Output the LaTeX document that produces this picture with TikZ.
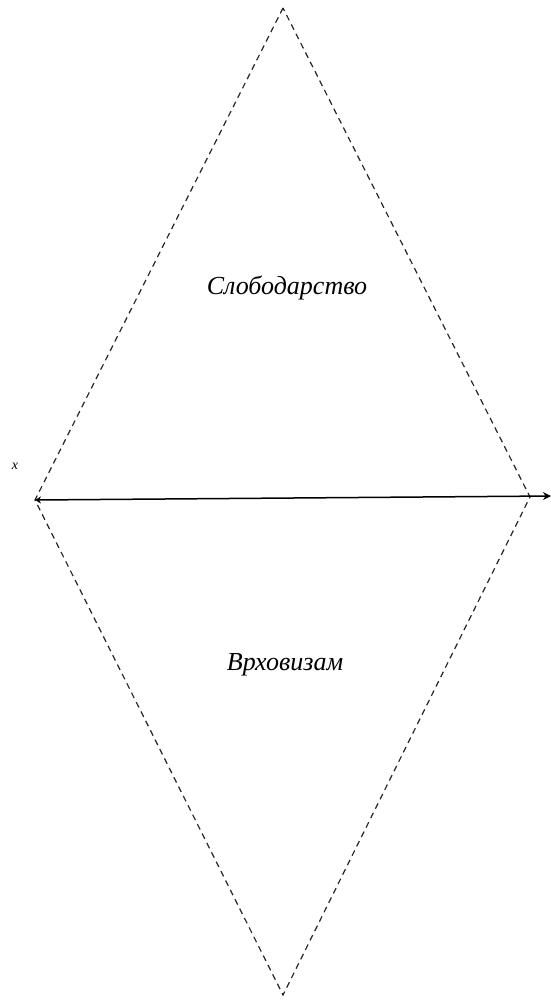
\documentclass[tikz,border=0pt]{standalone}
\usepackage{fontspec}
\setmainfont{Liberation Serif}
\usetikzlibrary{arrows.meta}
\begin{document}
\begin{tikzpicture}[x=1pt,y=-1pt,
  edge/.style={draw=black!85, dash pattern=on 6pt off 4.5pt, line width=1.2pt},
  lbl/.style={font=\itshape\fontsize{26}{30}\selectfont},
  axis/.style={line width=1.5pt, {Stealth[length=6pt,width=7pt]}-{Stealth[length=8pt,width=8pt]}}]
\useasboundingbox (0,0) rectangle (551,1001);
\coordinate (T) at (283,8);
\coordinate (L) at (35,500);
\coordinate (R) at (530,497);
\coordinate (B) at (283,995);
\coordinate (E) at (551,496);
\draw[edge] (T) -- (L) -- (B) -- (R) -- cycle;
\draw[axis] (L) -- (E);
\node[font=\itshape\fontsize{14}{16}\selectfont] (x) at (15,466) {x};
\node[lbl] (s) at (287,288) {Слободарство};
\node[lbl] (v) at (285,665) {Врховизам};
\end{tikzpicture}
\end{document}
